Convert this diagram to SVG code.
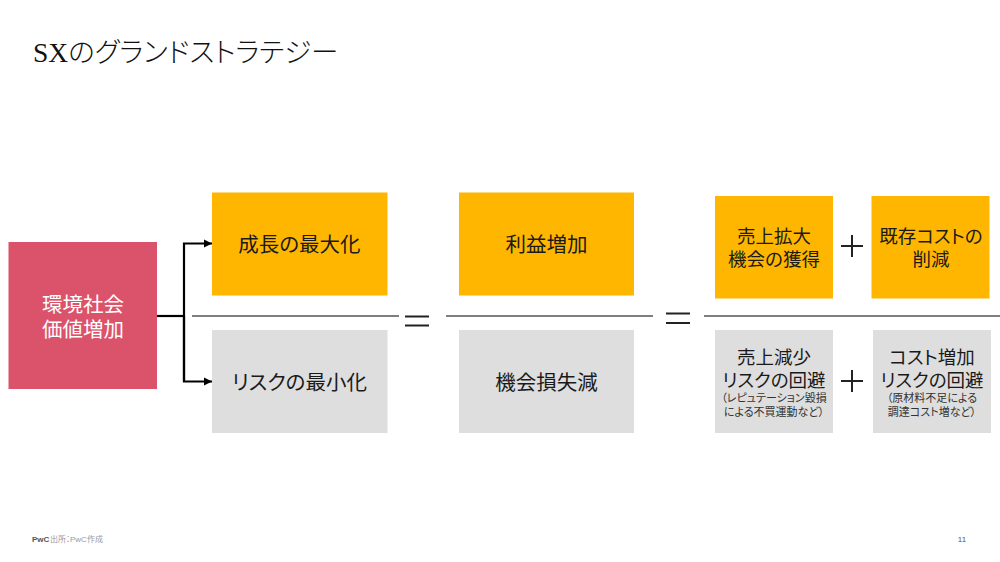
<svg xmlns="http://www.w3.org/2000/svg" width="1000" height="562" viewBox="0 0 1000 562">
<style>
text{font-family:"Liberation Sans","Noto Sans CJK JP",sans-serif;text-anchor:middle;fill:#1a1a1a;font-feature-settings:"palt"}
.m{font-size:20.500px}
.t{font-size:18.500px}
.s{font-size:11px;fill:#333}
.o{fill:#ffb600}
.g{fill:#dedede}
.c{fill:none;stroke:#000;stroke-width:2.2}
.r{stroke:#555;stroke-width:1.6;fill:none}
.e{stroke:#222;stroke-width:2;fill:none}
</style>
<defs><marker id="a" markerUnits="userSpaceOnUse" markerWidth="9" markerHeight="9" refX="8" refY="4.5" orient="auto"><path d="M0 0.5L8 4.5L0 8.5Z" fill="#000"/></marker></defs>
<rect width="1000" height="562" fill="#fff"/>
<text id="title" x="33" y="62" style="font-family:'Liberation Serif','Noto Sans CJK JP',serif;font-size:27.500px;text-anchor:start;fill:#111;font-weight:300">SXのグランドストラテジー</text>
<g id="connectors">
<path class="c" d="M157 316H184"/>
<path class="c" d="M184 381.500V243.500H212" marker-end="url(#a)"/>
<path class="c" d="M184 316V381.500H212" marker-end="url(#a)"/>
</g>
<g id="rules">
<path class="r" d="M192 316H399"/>
<path class="r" d="M446 316H653"/>
<path class="r" d="M704 316H1000"/>
<path class="e" d="M405 316.500H429M405 325.500H429"/>
<path class="e" d="M666 313.500H690M666 323H690"/>
<path class="e" d="M841 246H863M852 235V257"/>
<path class="e" d="M841 381H863M852 370V392"/>
</g>
<g id="n-value"><rect x="8.500" y="242" width="148.500" height="147" fill="#db536a"/><text class="m" x="83" y="312" style="fill:#fff">環境社会</text><text class="m" x="83" y="337" style="fill:#fff">価値増加</text></g>
<g id="n-growth"><rect class="o" x="212" y="192.500" width="175.500" height="103"/><text class="m" x="299.500" y="252">成長の最大化</text></g>
<g id="n-risk"><rect class="g" x="212" y="330" width="175.500" height="103"/><text class="m" x="299.500" y="390">リスクの最小化</text></g>
<g id="n-profit"><rect class="o" x="459" y="192.500" width="175" height="103"/><text class="m" x="546.500" y="252">利益増加</text></g>
<g id="n-loss"><rect class="g" x="459" y="330" width="175" height="103"/><text class="m" x="546.500" y="390">機会損失減</text></g>
<g id="n-sales"><rect class="o" x="715" y="196" width="118" height="102.500"/><text class="t" x="774" y="243">売上拡大</text><text class="t" x="774" y="266">機会の獲得</text></g>
<g id="n-cost"><rect class="o" x="871.500" y="196" width="118" height="102.500"/><text class="t" x="931" y="243">既存コストの</text><text class="t" x="931" y="266">削減</text></g>
<g id="n-salesrisk"><rect class="g" x="715" y="330" width="118" height="103"/><text class="t" x="774" y="364">売上減少</text><text class="t" x="774" y="387">リスクの回避</text><text class="s" x="774" y="402">（レピュテーション毀損</text><text class="s" x="774" y="416">による不買運動など）</text></g>
<g id="n-costrisk"><rect class="g" x="873" y="330" width="118" height="103"/><text class="t" x="932" y="364">コスト増加</text><text class="t" x="932" y="387">リスクの回避</text><text class="s" x="932" y="402">（原材料不足による</text><text class="s" x="932" y="416">調達コスト増など）</text></g>
<g id="footer"><text x="32" y="542" style="font-size:8px;text-anchor:start;fill:#555;font-weight:bold">PwC</text><text x="50" y="542" style="font-size:8px;text-anchor:start;fill:#999">出所：PwC作成</text><text x="962" y="542" style="font-size:8px;fill:#555">11</text></g>
</svg>
